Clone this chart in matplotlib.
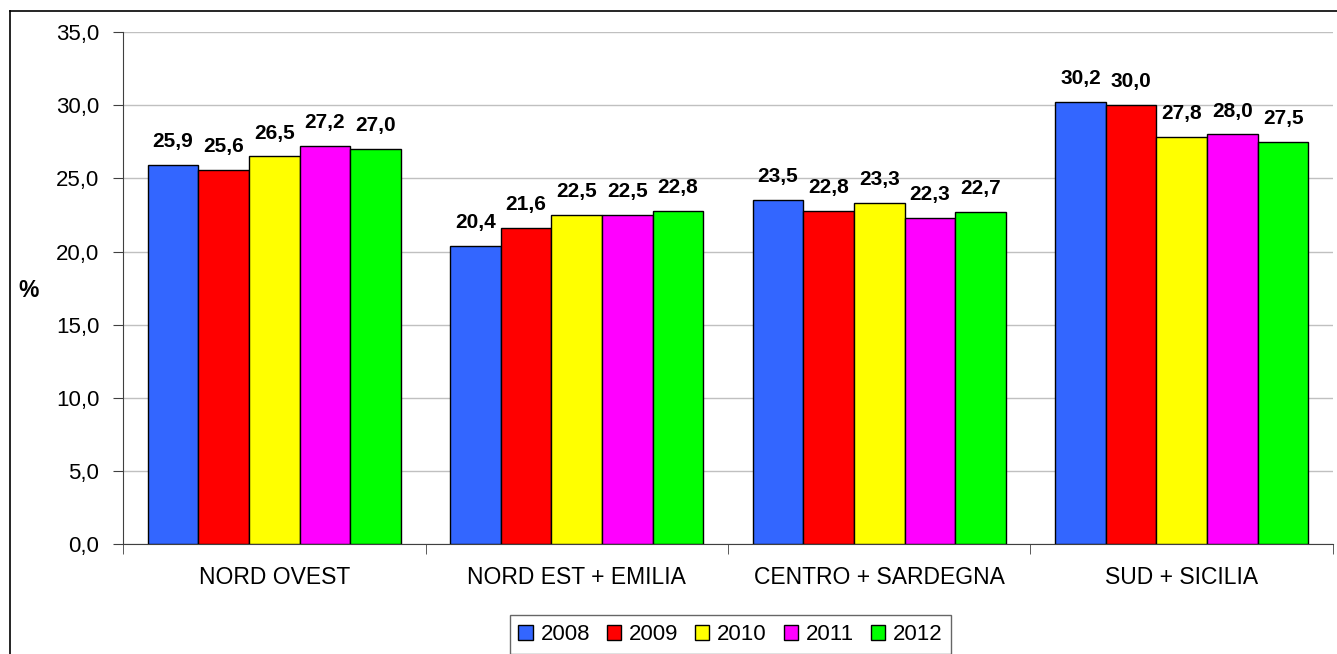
import numpy as np
import matplotlib.pyplot as plt
from matplotlib.lines import Line2D

# regioni e anni
regioni = ['NORD OVEST', 'NORD EST + EMILIA', 'CENTRO + SARDEGNA', 'SUD + SICILIA']
anni = ['2008', '2009', '2010', '2011', '2012']
colori = ['#3366FF', '#FF0000', '#FFFF00', '#FF00FF', '#00FF00']

v2008 = [25.9, 20.4, 23.5, 30.2]
v2009 = [25.6, 21.6, 22.8, 30.0]
v2010 = [26.5, 22.5, 23.3, 27.8]
v2011 = [27.2, 22.5, 22.3, 28.0]
v2012 = [27.0, 22.8, 22.7, 27.5]
valori = [v2008, v2009, v2010, v2011, v2012]

plt.rcParams['font.family'] = ['Liberation Sans', 'DejaVu Sans']

fig = plt.figure(figsize=(13.37, 6.54), dpi=100)
ax = fig.add_axes([0.092, 0.168, 0.905, 0.783])

x = np.arange(len(regioni))
w = 0.1675
for i, (anno, col, serie) in enumerate(zip(anni, colori, valori)):
    pos = x + (i - 2) * w
    ax.bar(pos, serie, width=w, color=col, edgecolor='black', linewidth=1.0,
           label=anno, zorder=3)
    for px, v in zip(pos, serie):
        ax.annotate(f'{v:.1f}'.replace('.', ','), (px, v), xytext=(0, 10),
                    textcoords='offset points', ha='center', va='bottom',
                    fontsize=15, fontweight='bold')

ax.set_ylim(0, 35)
ax.set_xlim(-0.5, 3.5)
ax.set_yticks(np.arange(0, 36, 5))
ax.set_yticklabels([f'{t:.1f}'.replace('.', ',') for t in np.arange(0, 36, 5)],
                   fontsize=16)
ax.yaxis.grid(True, color='#c0c0c0', linewidth=1, zorder=0)
ax.set_axisbelow(True)

# etichette delle regioni senza tick, tick ai confini
ax.set_xticks(x)
ax.set_xticklabels(regioni, fontsize=16.5)
ax.tick_params(axis='x', length=0, pad=16)
ax.set_xticks(np.arange(-0.5, 4, 1), minor=True)
ax.tick_params(axis='x', which='minor', length=7, color='#404040')
ax.tick_params(axis='y', length=7, color='#404040', pad=10)

for s in ['top', 'right']:
    ax.spines[s].set_visible(False)
ax.spines['left'].set_color('#404040')
ax.spines['bottom'].set_color('#404040')

fig.text(0.021, 0.556, '%', fontsize=16.5, fontweight='bold', ha='center', va='center')

leg = ax.legend(loc='upper center', bbox_to_anchor=(0.502, -0.117), ncol=5,
                fontsize=16, frameon=True, fancybox=False, edgecolor='#404040',
                handlelength=0.65, handleheight=0.65, handletextpad=0.35,
                columnspacing=0.75, borderpad=0.4)
leg.get_frame().set_linewidth(1)

# cornice esterna
fig.add_artist(Line2D([10 / 1337, 10 / 1337], [0, 1 - 11 / 654],
                      transform=fig.transFigure, color='black', linewidth=1.2))
fig.add_artist(Line2D([10 / 1337, 1], [1 - 11 / 654, 1 - 11 / 654],
                      transform=fig.transFigure, color='black', linewidth=1.2))

fig.savefig('out.png', dpi=100)
